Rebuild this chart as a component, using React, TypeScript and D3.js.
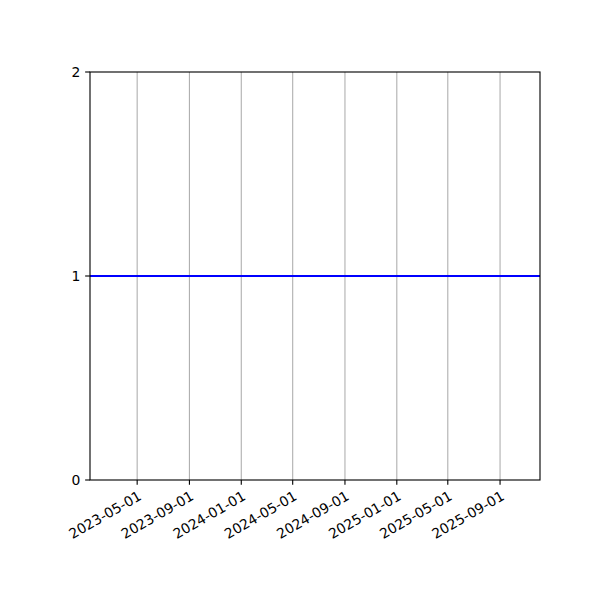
import * as d3 from "d3";

const lineDates = ["2023-01-10", "2025-12-04"];
const lineValues = [1, 1];
const xTickLabels = [
  "2023-05-01",
  "2023-09-01",
  "2024-01-01",
  "2024-05-01",
  "2024-09-01",
  "2025-01-01",
  "2025-05-01",
  "2025-09-01",
];
const yTickValues = [0, 1, 2];

const width = 600;
const height = 600;
const margin = { top: 72, right: 60, bottom: 120, left: 90 };
const font = "'DejaVu Sans', sans-serif";

export default function App() {
  const parse = d3.utcParse("%Y-%m-%d");
  const innerWidth = width - margin.left - margin.right;
  const innerHeight = height - margin.top - margin.bottom;
  const points = lineDates.map((d, i) => ({ date: parse(d) as Date, value: lineValues[i] }));

  const xScale = d3
    .scaleUtc()
    .domain(d3.extent(points, (p) => p.date) as [Date, Date])
    .range([0, innerWidth]);
  const yScale = d3.scaleLinear().domain([0, 2]).range([innerHeight, 0]);

  const line = d3
    .line<{ date: Date; value: number }>()
    .x((p) => xScale(p.date))
    .y((p) => yScale(p.value));

  const tickLen = 4.86;
  const pad = 4.86;

  return (
    <svg width={width} height={height} style={{ position: "absolute", left: 0, top: 0, background: "#fff" }}>
      <g transform={`translate(${margin.left}, ${margin.top})`}>
        {xTickLabels.map((t) => {
          const x = xScale(parse(t) as Date);
          return <line key={`g-${t}`} x1={x} x2={x} y1={0} y2={innerHeight} stroke="#b0b0b0" strokeWidth={1.11} />;
        })}

        <path d={line(points) ?? ""} fill="none" stroke="#0000ff" strokeWidth={2.08} />

        <rect x={0} y={0} width={innerWidth} height={innerHeight} fill="none" stroke="#000" strokeWidth={1.11} />

        {xTickLabels.map((t) => {
          const x = xScale(parse(t) as Date);
          return (
            <g key={`t-${t}`}>
              <line x1={x} x2={x} y1={innerHeight} y2={innerHeight + tickLen} stroke="#000" strokeWidth={1.11} />
              <text
                transform={`translate(${x}, ${innerHeight + tickLen + pad}) rotate(-30)`}
                textAnchor="end"
                dy="0.76em"
                fontFamily={font}
                fontSize={13.9}
                fill="#000"
              >
                {t}
              </text>
            </g>
          );
        })}

        {yTickValues.map((v) => (
          <g key={`y-${v}`} transform={`translate(0, ${yScale(v)})`}>
            <line x1={-tickLen} x2={0} y1={0} y2={0} stroke="#000" strokeWidth={1.11} />
            <text x={-tickLen - pad} y={0} dy="0.36em" textAnchor="end" fontFamily={font} fontSize={13.9} fill="#000">
              {v}
            </text>
          </g>
        ))}
      </g>
    </svg>
  );
}
